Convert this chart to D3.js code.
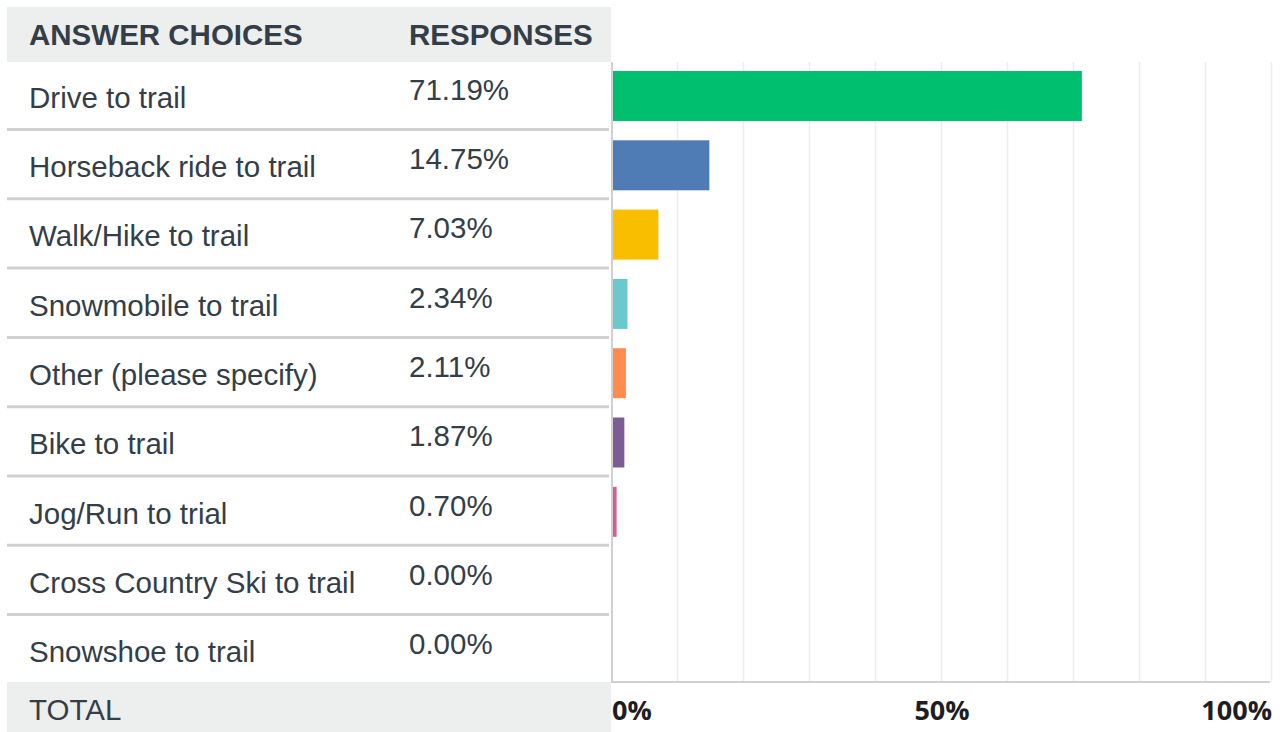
<!DOCTYPE html>
<html>
<head>
<meta charset="utf-8">
<script src="https://cdn.jsdelivr.net/npm/d3@7"></script>
<style>
  body { margin: 0; background: #fff; }
  svg { display: block; }
</style>
</head>
<body>
<svg width="1280" height="732"></svg>
<script>
// answer choices and their share of responses (%)
var choices = ["Drive to trail", "Horseback ride to trail", "Walk/Hike to trail", "Snowmobile to trail",
  "Other (please specify)", "Bike to trail", "Jog/Run to trial", "Cross Country Ski to trail", "Snowshoe to trail"];
var responses = [71.19, 14.75, 7.03, 2.34, 2.11, 1.87, 0.70, 0.00, 0.00];
var barColors = ["#00bf6f", "#507cb6", "#f9be00", "#6bc8cd", "#ff8b4f", "#7d5c96", "#d65f92", "#999", "#999"];
var axisTicks = [0, 50, 100];
var gridTicks = [10, 20, 30, 40, 50, 60, 70, 80, 90, 100];

var svg = d3.select("svg"),
    tableLeft = 7, tableRight = 611,
    chartTop = 62, chartBottom = 682,
    rowStep = 69.3,
    textColor = "#333e48",
    lineColor = "#d0d0d0",
    bodyFont = "29.5px 'Liberation Sans', Arial, sans-serif";

var data = choices.map(function(c, i) { return {choice: c, value: responses[i], color: barColors[i]}; });

//scales
var x = d3.scaleLinear().domain([0, 100]).range([612, 1272]);
// table rows (slightly taller than the plot area; last row is clipped by the TOTAL band)
var rows = d3.scaleBand().domain(choices).range([61.7, 61.7 + rowStep * choices.length]);
var y = d3.scaleBand().domain(choices).range([71, 71 + rowStep * (choices.length - 1) + 50]).paddingInner(1 - 50 / rowStep).paddingOuter(0);

//header and total backgrounds
svg.append("rect").attr("x", tableLeft).attr("y", 7).attr("width", tableRight - tableLeft).attr("height", chartTop - 7).attr("fill", "#edeeee");

var header = svg.append("g").style("font", "bold 29.5px 'Liberation Sans', Arial, sans-serif").attr("fill", textColor);
header.append("text").attr("x", 29).attr("y", 45).text("ANSWER CHOICES");
header.append("text").attr("x", 409).attr("y", 45).text("RESPONSES");

//rows of the table
var row = svg.append("g").selectAll("g").data(data).enter().append("g");

row.filter(function(d, i) { return i < choices.length - 1; })
  .append("line")
  .attr("x1", tableLeft).attr("x2", tableRight - 2)
  .attr("y1", function(d) { return rows(d.choice) + rows.bandwidth() - 1.5; })
  .attr("y2", function(d) { return rows(d.choice) + rows.bandwidth() - 1.5; })
  .attr("stroke", lineColor).attr("stroke-width", 3);

row.append("text")
  .attr("x", 29)
  .attr("y", function(d) { return rows(d.choice) + 46; })
  .style("font", bodyFont)
  .attr("fill", textColor)
  .text(function(d) { return d.choice; });

row.append("text")
  .attr("x", 409)
  .attr("y", function(d) { return rows(d.choice) + 38; })
  .style("font", bodyFont)
  .attr("fill", textColor)
  .text(function(d) { return d.value.toFixed(2) + "%"; });

svg.append("rect").attr("x", tableLeft).attr("y", chartBottom).attr("width", tableRight - tableLeft).attr("height", 732 - chartBottom).attr("fill", "#edeeee");
svg.append("text").attr("x", 29).attr("y", 720)
  .style("font", bodyFont)
  .attr("fill", textColor).text("TOTAL");

//gridlines
svg.append("g").selectAll("line").data(gridTicks).enter().append("line")
  .attr("x1", function(d) { return x(d) - 0.5; }).attr("x2", function(d) { return x(d) - 0.5; })
  .attr("y1", chartTop).attr("y2", chartBottom)
  .attr("stroke", "#ececec").attr("stroke-width", 1.5);

//bars
svg.append("g").selectAll("rect").data(data.filter(function(d) { return d.value > 0; })).enter().append("rect")
  .attr("x", x(0) + 1)
  .attr("y", function(d) { return y(d.choice); })
  .attr("width", function(d) { return Math.max(x(d.value) - x(0) - 1, 3); })
  .attr("height", y.bandwidth())
  .attr("fill", function(d) { return d.color; });

//axis lines
svg.append("line").attr("x1", x(0)).attr("x2", x(0)).attr("y1", chartTop).attr("y2", chartBottom + 1)
  .attr("stroke", lineColor).attr("stroke-width", 2);
svg.append("line").attr("x1", x(0)).attr("x2", x(100) - 2).attr("y1", chartBottom).attr("y2", chartBottom)
  .attr("stroke", lineColor).attr("stroke-width", 2);

//axis labels
svg.append("g").selectAll("text").data(axisTicks).enter().append("text")
  .attr("x", function(d) { return x(d); })
  .attr("y", 720)
  .attr("text-anchor", function(d, i) { return i === 0 ? "start" : (i === axisTicks.length - 1 ? "end" : "middle"); })
  .style("font", "bold 27px 'Open Sans', sans-serif")
  .attr("fill", "#1e1e1e")
  .text(function(d) { return d + "%"; });
</script>
</body>
</html>
